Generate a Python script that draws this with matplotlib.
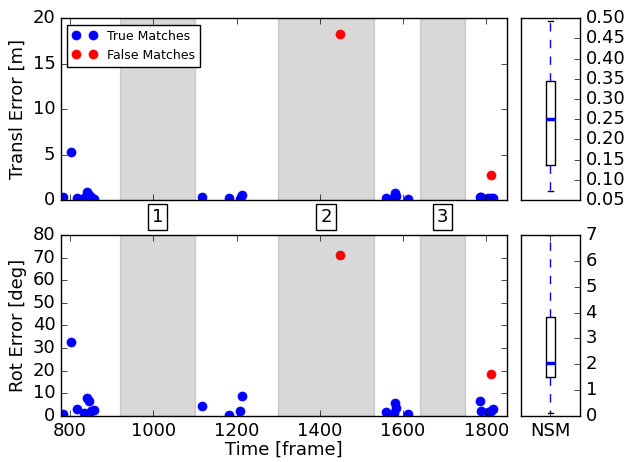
import numpy as np
import matplotlib
matplotlib.use('Agg')
import matplotlib.pyplot as plt

# true matches: frame, translation error [m], rotation error [deg]
true_frames = [783, 802, 816, 834, 841, 845, 849, 858, 1116, 1181, 1209, 1214,
               1558, 1578, 1580, 1583, 1613, 1786, 1788, 1804, 1812, 1817]
true_transl = [0.3, 5.3, 0.2, 0.2, 0.9, 0.5, 0.3, 0.1, 0.3, 0.2, 0.1, 0.5,
               0.2, 0.3, 0.8, 0.4, 0.15, 0.3, 0.35, 0.2, 0.2, 0.25]
true_rot = [0.7, 32.7, 3.2, 1.5, 7.8, 6.8, 2.0, 2.5, 4.6, 0.3, 2.0, 8.8,
            1.9, 1.2, 5.9, 3.4, 0.8, 6.8, 2.2, 1.8, 2.0, 3.2]

# false matches
false_frames = [1449, 1812]
false_transl = [18.3, 2.8]
false_rot = [71.2, 18.5]

# shaded segments and their labels
segments = [(920, 1100), (1300, 1530), (1640, 1750)]
segment_labels = ['1', '2', '3']

# NSM box plot summaries (whislo, q1, med, q3, whishi)
nsm_transl = [0.072, 0.137, 0.25, 0.345, 0.493]
nsm_rot = [0.13, 1.52, 2.04, 3.84, 7.0]

plt.style.use('classic')
plt.rcParams['figure.facecolor'] = 'white'
plt.rcParams['savefig.facecolor'] = 'white'
plt.rcParams['font.size'] = 13

fig = plt.figure(figsize=(6.26, 4.62), dpi=100)
ax1 = fig.add_axes([0.0974, 0.5671, 0.7125, 0.3933])
ax2 = fig.add_axes([0.0974, 0.0996, 0.7125, 0.3918])
bx1 = fig.add_axes([0.8318, 0.5671, 0.0947, 0.3933])
bx2 = fig.add_axes([0.8318, 0.0996, 0.0947, 0.3918])

for ax in (ax1, ax2):
    for a, b in segments:
        ax.axvspan(a, b, color='gray', alpha=0.3)
    ax.set_xlim(778, 1850)

ax1.plot(true_frames, true_transl, 'o', color='b', mec='b', ms=6.5, label='True Matches')
ax1.plot(false_frames, false_transl, 'o', color='r', mec='r', ms=6.5, label='False Matches')
ax1.set_ylim(0, 20)
ax1.set_yticks([0, 5, 10, 15, 20])
ax1.set_xticks([800, 1000, 1200, 1400, 1600, 1800])
ax1.set_xticklabels([])
ax1.set_ylabel('Transl Error [m]', labelpad=4)
ax1.legend(loc='upper left', fontsize=9, numpoints=2)

for (a, b), lab in zip(segments, segment_labels):
    ax1.text((a + b) / 2, -0.095, lab, transform=ax1.get_xaxis_transform(),
             ha='center', va='center', fontsize=13,
             bbox=dict(facecolor='white', edgecolor='k', pad=3))

ax2.plot(true_frames, true_rot, 'o', color='b', mec='b', ms=6.5)
ax2.plot(false_frames, false_rot, 'o', color='r', mec='r', ms=6.5)
ax2.set_ylim(0, 80)
ax2.set_yticks(np.arange(0, 81, 10))
ax2.set_xticks([800, 1000, 1200, 1400, 1600, 1800])
ax2.set_ylabel('Rot Error [deg]', labelpad=4)
ax2.set_xlabel('Time [frame]', labelpad=1)


def draw_box(ax, s):
    stats = [dict(whislo=s[0], q1=s[1], med=s[2], q3=s[3], whishi=s[4], fliers=[])]
    ax.bxp(stats, widths=0.16, showfliers=False,
           boxprops=dict(color='k', linewidth=1),
           whiskerprops=dict(color='b', linestyle='--', linewidth=1),
           capprops=dict(color='k', linewidth=1),
           medianprops=dict(color='b', linewidth=2.5))
    ax.set_xlim(0.5, 1.5)
    ax.yaxis.tick_right()


draw_box(bx1, nsm_transl)
bx1.set_ylim(0.05, 0.50)
bx1.set_yticks(np.arange(0.05, 0.501, 0.05))
bx1.set_yticklabels(['%.2f' % v for v in np.arange(0.05, 0.501, 0.05)])
bx1.set_xticks([])

draw_box(bx2, nsm_rot)
bx2.set_ylim(0, 7)
bx2.set_yticks(range(0, 8))
bx2.set_xticks([1])
bx2.set_xticklabels(['NSM'])

fig.savefig('out.png', dpi=100)
